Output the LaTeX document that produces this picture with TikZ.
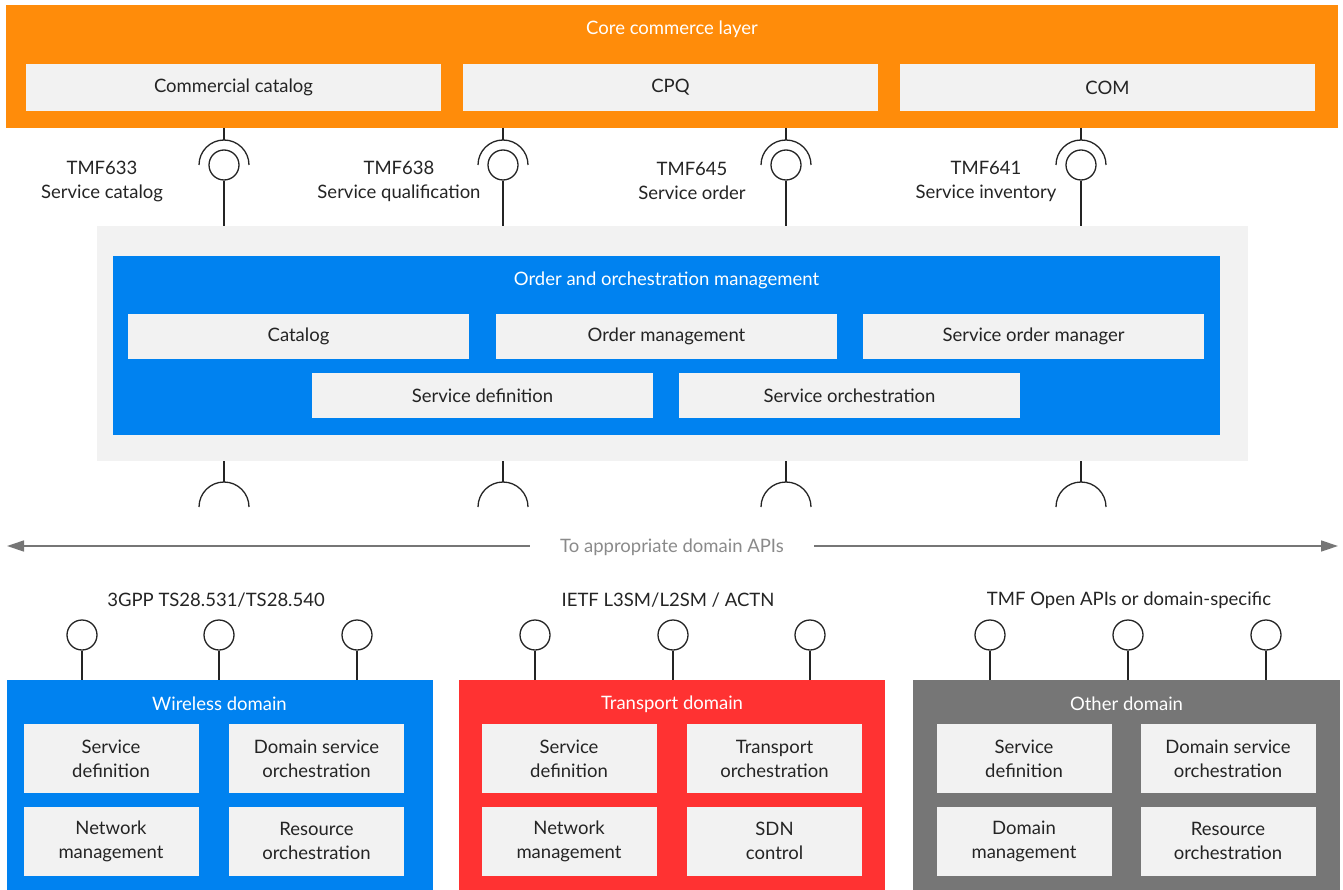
\documentclass[tikz,border=0pt]{standalone}
\usepackage{fontspec}
\setmainfont{Lato}
\usetikzlibrary{arrows.meta}

\definecolor{corebg}{HTML}{FF8C0A}
\definecolor{oombg}{HTML}{0082F0}
\definecolor{transbg}{HTML}{FF3232}
\definecolor{otherbg}{HTML}{767676}
\definecolor{cardbg}{HTML}{F2F2F2}
\definecolor{ink}{HTML}{242424}
\definecolor{hint}{HTML}{8A8A8A}

\tikzset{
  txt/.style={font=\fontsize{18.5}{24}\selectfont, text=ink, align=center},
  card/.style={txt, fill=cardbg, inner sep=0pt},
  pane/.style={inner sep=0pt, outer sep=0pt},
  ttl/.style={txt, text=white},
  ball/.style={circle, draw=ink, line width=1.3pt, minimum size=30pt, inner sep=0pt},
  wire/.style={draw=ink, line width=1.3pt}
}

\begin{document}
\begin{tikzpicture}[x=1pt,y=-1pt]
\useasboundingbox (0,0) rectangle (1343,890);

% core commerce layer
\node[pane, fill=corebg, minimum width=1332pt, minimum height=123pt] (core) at (672,66.5) {};
\node[ttl] (coret) at (672,29) {Core commerce layer};
\node[card, minimum width=415pt, minimum height=47pt] (ccat) at (233.5,87.5) {Commercial catalog};
\node[card, minimum width=415pt, minimum height=47pt] (cpq) at (670.5,87.5) {CPQ};
\node[card, minimum width=415pt, minimum height=47pt] (com) at (1107.5,87.5) {COM};

% order and orchestration management
\node[pane, fill=cardbg, minimum width=1151pt, minimum height=235pt] (oom) at (672.5,343.5) {};
\node[pane, fill=oombg, minimum width=1107pt, minimum height=179pt] (oomin) at (666.5,345.5) {};
\node[ttl] (oomt) at (666.5,280) {Order and orchestration management};
\node[card, minimum width=341pt, minimum height=45pt] (cat) at (298.5,336.5) {Catalog};
\node[card, minimum width=341pt, minimum height=45pt] (ordm) at (666.5,336.5) {Order management};
\node[card, minimum width=341pt, minimum height=45pt] (som) at (1033.5,336.5) {Service order manager};
\node[card, minimum width=341pt, minimum height=45pt] (sdef) at (482.5,395.5) {Service definition};
\node[card, minimum width=341pt, minimum height=45pt] (sorch) at (849.5,395.5) {Service orchestration};

% northbound APIs
\node[ball] (api1) at (224,165) {};
\node[ball] (api2) at (503,165) {};
\node[ball] (api3) at (786,165) {};
\node[ball] (api4) at (1081,165) {};
\coordinate (s1) at (224,140);
\coordinate (s2) at (503,140);
\coordinate (s3) at (786,140);
\coordinate (s4) at (1081,140);
\draw[wire] (api1 |- core.south) -- (s1);
\draw[wire] (api2 |- core.south) -- (s2);
\draw[wire] (api3 |- core.south) -- (s3);
\draw[wire] (api4 |- core.south) -- (s4);
\draw[wire] (199,165) arc[start angle=180, end angle=0, radius=25pt];
\draw[wire] (478,165) arc[start angle=180, end angle=0, radius=25pt];
\draw[wire] (761,165) arc[start angle=180, end angle=0, radius=25pt];
\draw[wire] (1056,165) arc[start angle=180, end angle=0, radius=25pt];
\draw[wire] (api1) -- (api1 |- oom.north);
\draw[wire] (api2) -- (api2 |- oom.north);
\draw[wire] (api3) -- (api3 |- oom.north);
\draw[wire] (api4) -- (api4 |- oom.north);
\node[txt] (tmf633) at (102,181) {TMF633\\Service catalog};
\node[txt] (tmf638) at (399,181) {TMF638\\Service qualification};
\node[txt] (tmf645) at (692,181) {TMF645\\Service order};
\node[txt] (tmf641) at (986,181) {TMF641\\Service inventory};

% southbound sockets
\coordinate (b1) at (224,482);
\coordinate (b2) at (503,482);
\coordinate (b3) at (786,482);
\coordinate (b4) at (1081,482);
\draw[wire] (b1 |- oom.south) -- (b1);
\draw[wire] (b2 |- oom.south) -- (b2);
\draw[wire] (b3 |- oom.south) -- (b3);
\draw[wire] (b4 |- oom.south) -- (b4);
\draw[wire] (199,507) arc[start angle=180, end angle=0, radius=25pt];
\draw[wire] (478,507) arc[start angle=180, end angle=0, radius=25pt];
\draw[wire] (761,507) arc[start angle=180, end angle=0, radius=25pt];
\draw[wire] (1056,507) arc[start angle=180, end angle=0, radius=25pt];

% domain arrow
\node[txt, text=hint, inner xsep=30pt] (apis) at (672,547) {To appropriate domain APIs};
\coordinate (west) at (7,546);
\coordinate (east) at (1338,546);
\draw[otherbg, line width=1.3pt, -{Triangle[length=17pt,width=11pt]}] (apis.west |- west) -- (west);
\draw[otherbg, line width=1.3pt, -{Triangle[length=17pt,width=11pt]}] (apis.east |- east) -- (east);

% domains
\node[pane, fill=oombg, minimum width=426pt, minimum height=210pt] (wdom) at (219.5,785) {};
\node[pane, fill=transbg, minimum width=426pt, minimum height=210pt] (tdom) at (672,785) {};
\node[pane, fill=otherbg, minimum width=427pt, minimum height=210pt] (odom) at (1126.5,785) {};
\node[ttl] (wdomt) at (219.5,704) {Wireless domain};
\node[ttl] (tdomt) at (672,704) {Transport domain};
\node[ttl] (odomt) at (1126.5,704) {Other domain};

\node[card, minimum width=175pt, minimum height=69pt] (wsd) at (111,758.5) {Service\\definition};
\node[card, minimum width=175pt, minimum height=69pt] (wdso) at (316.5,758.5) {Domain service\\orchestration};
\node[card, minimum width=175pt, minimum height=69pt] (wnm) at (111,841) {Network\\management};
\node[card, minimum width=175pt, minimum height=69pt] (wro) at (316.5,841) {Resource\\orchestration};

\node[card, minimum width=175pt, minimum height=69pt] (tsd) at (569,758.5) {Service\\definition};
\node[card, minimum width=175pt, minimum height=69pt] (tto) at (774.5,758.5) {Transport\\orchestration};
\node[card, minimum width=175pt, minimum height=69pt] (tnm) at (569,841) {Network\\management};
\node[card, minimum width=175pt, minimum height=69pt] (tsdn) at (774.5,841) {SDN\\control};

\node[card, minimum width=175pt, minimum height=69pt] (osd) at (1024,758.5) {Service\\definition};
\node[card, minimum width=175pt, minimum height=69pt] (odso) at (1228,758.5) {Domain service\\orchestration};
\node[card, minimum width=175pt, minimum height=69pt] (odm) at (1024,841) {Domain\\management};
\node[card, minimum width=175pt, minimum height=69pt] (oro) at (1228,841) {Resource\\orchestration};

% domain APIs
\node[txt] (gpp) at (216,600) {3GPP TS28.531/TS28.540};
\node[txt] (ietf) at (668,600) {IETF L3SM/L2SM / ACTN};
\node[txt] (tmfo) at (1129,600) {TMF Open APIs or domain-specific};

\node[ball] (w1) at (82,635) {};
\node[ball] (w2) at (219,635) {};
\node[ball] (w3) at (357,635) {};
\node[ball] (t1) at (535,635) {};
\node[ball] (t2) at (673,635) {};
\node[ball] (t3) at (810,635) {};
\node[ball] (o1) at (990,635) {};
\node[ball] (o2) at (1128,635) {};
\node[ball] (o3) at (1266,635) {};
\draw[wire] (w1) -- (w1 |- wdom.north);
\draw[wire] (w2) -- (w2 |- wdom.north);
\draw[wire] (w3) -- (w3 |- wdom.north);
\draw[wire] (t1) -- (t1 |- tdom.north);
\draw[wire] (t2) -- (t2 |- tdom.north);
\draw[wire] (t3) -- (t3 |- tdom.north);
\draw[wire] (o1) -- (o1 |- odom.north);
\draw[wire] (o2) -- (o2 |- odom.north);
\draw[wire] (o3) -- (o3 |- odom.north);
\end{tikzpicture}
\end{document}
